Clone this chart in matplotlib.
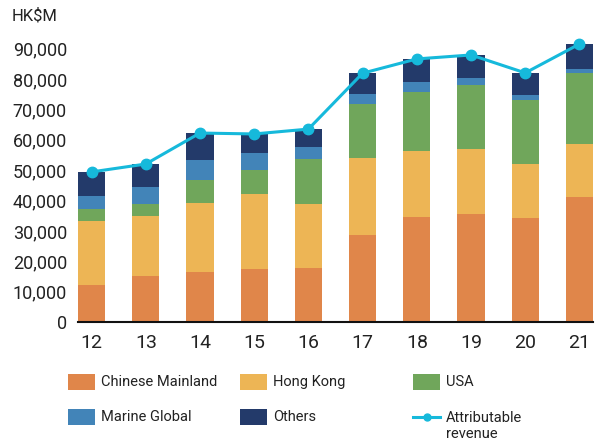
import matplotlib.pyplot as plt
from matplotlib.patches import Rectangle
from matplotlib.lines import Line2D
import numpy as np

plt.rcParams['font.family'] = ['Roboto', 'DejaVu Sans']

years = ["12", "13", "14", "15", "16", "17", "18", "19", "20", "21"]
mainland = [12200, 15100, 16500, 17400, 17800, 28600, 34600, 35500, 34200, 41100]
hong_kong = [21100, 19800, 22700, 24700, 21100, 25300, 21700, 21400, 17800, 17500]
usa = [3900, 3900, 7600, 7900, 14800, 17800, 19400, 21100, 21100, 23400]
marine = [4300, 5600, 6600, 5600, 3900, 3300, 3300, 2300, 1600, 1300]
others = [7900, 7600, 8900, 6300, 5900, 6900, 7600, 7600, 7300, 8200]
revenue = [49400, 52000, 62200, 61900, 63500, 81900, 86600, 87900, 82000, 91500]

series_names = ["Chinese Mainland", "Hong Kong", "USA", "Marine Global", "Others"]
colors = ["#E0864A", "#EDB555", "#70A65B", "#4284B8", "#233A6A"]
line_color = "#16B9DB"
text_color = "#222222"

fig = plt.figure(figsize=(6.01, 4.45), dpi=100)
ax = fig.add_axes([78 / 601, 1 - 322 / 445, (593 - 78) / 601, (322 - 33.4) / 445])

x = np.arange(len(years))
bottom = np.zeros(len(years))
for vals, col in zip([mainland, hong_kong, usa, marine, others], colors):
    ax.bar(x, vals, width=0.5, bottom=bottom, color=col, linewidth=0)
    bottom += np.array(vals)

ax.plot(x, revenue, color=line_color, linewidth=2.2, marker='o', markersize=7.5, zorder=5)

ax.set_xlim(-0.25, len(years) - 0.75)
ax.set_ylim(0, 95000)
ax.set_yticks(np.arange(0, 90001, 10000))
ax.set_yticklabels([f"{v:,}" for v in range(0, 90001, 10000)])
ax.set_xticks(x)
ax.set_xticklabels(years)
ax.tick_params(axis='y', length=0, pad=8, labelsize=13, labelcolor=text_color)
ax.tick_params(axis='x', length=0, pad=9, labelsize=14, labelcolor=text_color)
for side in ['top', 'right', 'left']:
    ax.spines[side].set_visible(False)
ax.spines['bottom'].set_color('#111111')
ax.spines['bottom'].set_linewidth(1.5)

fig.text(12 / 601, 1 - 16 / 445, "HK$M", fontsize=12, color=text_color, va='center', ha='left')

# legend, drawn by hand on a 3-column grid
W, H = 601, 445
col_x = [68, 240, 413]
row_y = [382, 417]
entries = [(0, 0, 0), (1, 0, 1), (2, 0, 2), (3, 1, 0), (4, 1, 1)]
for idx, r, c in entries:
    fig.add_artist(Rectangle((col_x[c] / W, 1 - (row_y[r] + 8) / H), 27 / W, 16 / H,
                             transform=fig.transFigure, color=colors[idx], linewidth=0))
    fig.text((col_x[c] + 33) / W, 1 - row_y[r] / H, series_names[idx], fontsize=10.5,
             color=text_color, va='center', ha='left')

fig.add_artist(Line2D([col_x[2] / W, (col_x[2] + 27) / W], [1 - row_y[1] / H] * 2,
                      transform=fig.transFigure, color=line_color, linewidth=2.2))
fig.add_artist(Line2D([(col_x[2] + 13.5) / W], [1 - row_y[1] / H], transform=fig.transFigure,
                      color=line_color, marker='o', markersize=5))
fig.text((col_x[2] + 33) / W, 1 - 426 / H, "Attributable\nrevenue", fontsize=10.5,
         color=text_color, va='center', ha='left', linespacing=1.15)

fig.savefig("out.png", dpi=100)
